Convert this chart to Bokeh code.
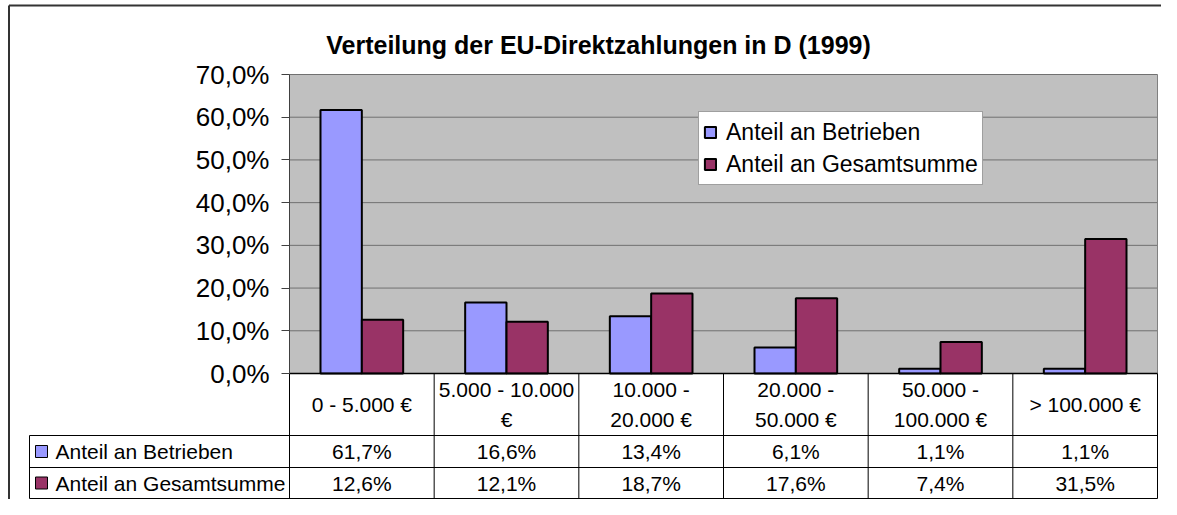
from bokeh.plotting import figure
from bokeh.models import Range1d, FixedTicker, CustomJSTickFormatter, ColumnDataSource
from bokeh.transform import dodge
from bokeh.core.properties import value
from bokeh.embed import file_html
from bokeh.resources import INLINE
import numpy as np

# ---------------- data ----------------
title_text = "Verteilung der EU-Direktzahlungen in D (1999)"
categories = ["0 - 5.000 €", "5.000 - 10.000\n€", "10.000 -\n20.000 €",
              "20.000 -\n50.000 €", "50.000 -\n100.000 €", "> 100.000 €"]
series_names = ["Anteil an Betrieben", "Anteil an Gesamtsumme"]
anteil_betriebe = [61.7, 16.6, 13.4, 6.1, 1.1, 1.1]
anteil_gesamtsumme = [12.6, 12.1, 18.7, 17.6, 7.4, 31.5]
y_ticks = [0, 10, 20, 30, 40, 50, 60, 70]
series_colors = ["#9999FF", "#993366"]

# ---------------- layout (canvas pixels) ----------------
W, H = 1161, 499
PLOT_L, PLOT_R = 289, 1157
PLOT_T, PLOT_B = 74, 373
Y_MAX = y_ticks[-1]
TABLE_L = 29
ROW_LINES = [373, 435, 467, 498]
FONT = "Liberation Sans"

n = len(categories)
ux = (PLOT_R - PLOT_L) / n
uy = (PLOT_B - PLOT_T) / Y_MAX


def X(px):
    return (px - PLOT_L) / ux


def Y(py):
    return (PLOT_B - py) / uy


def fmt(v):
    return f"{v:.1f}".replace(".", ",") + "%"


p = figure(width=W, height=H, output_backend="svg", toolbar_location=None,
           x_range=Range1d(X(0), X(W)),
           y_range=Range1d(Y(H), Y(0)),
           x_axis_location=None,
           min_border_left=0, min_border_right=0,
           min_border_top=0, min_border_bottom=0,
           background_fill_color="white", border_fill_color="white",
           outline_line_color=None)
p.grid.visible = False

# outer chart border (left and top)
p.segment(x0=[X(8.5), X(8.5)], x1=[X(8.5), X(W)], y0=[Y(5), Y(5)], y1=[Y(H), Y(5)],
          line_color="#333333", line_width=2)

# title
p.text(x=[X(598)], y=[Y(44)], text=[title_text], text_font=value(FONT),
       text_font_style="bold", text_font_size="25px", text_color="black",
       text_align="center", text_baseline="alphabetic")

# y axis at x = 0
ax = p.yaxis[0]
ax.fixed_location = 0
ax.ticker = FixedTicker(ticks=y_ticks)
ax.bounds = (0, Y_MAX)
ax.formatter = CustomJSTickFormatter(code="return tick.toFixed(1).replace('.', ',') + '%';")
ax.major_label_text_font = FONT
ax.major_label_text_font_size = "26px"
ax.major_label_text_color = "black"
ax.major_tick_out = 8
ax.major_tick_in = 0
ax.minor_tick_out = 0
ax.minor_tick_in = 0
ax.axis_line_color = "#404040"
ax.major_tick_line_color = "#404040"
ax.major_label_standoff = 12

# plot area background and gridlines
p.quad(left=[0], right=[n], bottom=[0], top=[Y_MAX], fill_color="#C0C0C0", line_color=None)
p.segment(x0=[0] * (len(y_ticks) - 1), x1=[n] * (len(y_ticks) - 1),
          y0=y_ticks[1:], y1=y_ticks[1:], line_color="#707070", line_width=1)
p.segment(x0=[n], x1=[n], y0=[0], y1=[Y_MAX], line_color="#808080", line_width=1)

# bars
src = ColumnDataSource(dict(x=np.arange(n) + 0.5, b=anteil_betriebe, g=anteil_gesamtsumme))
bw = 1 / 3.5
p.vbar(x=dodge("x", -bw / 2, range=p.x_range), top="b", width=bw, source=src,
       fill_color=series_colors[0], line_color="black", line_width=2,
       legend_label=series_names[0])
p.vbar(x=dodge("x", bw / 2, range=p.x_range), top="g", width=bw, source=src,
       fill_color=series_colors[1], line_color="black", line_width=2,
       legend_label=series_names[1])

# data table grid
tl = X(TABLE_L)
p.segment(x0=[0], x1=[n], y0=[0], y1=[0], line_color="black", line_width=1.5)
hl = ROW_LINES[1:]
p.segment(x0=[tl] * len(hl), x1=[n] * len(hl), y0=[Y(v) for v in hl], y1=[Y(v) for v in hl],
          line_color="black", line_width=1)
p.segment(x0=list(range(n + 1)), x1=list(range(n + 1)), y0=[0] * (n + 1),
          y1=[Y(ROW_LINES[-1])] * (n + 1), line_color="black", line_width=1)
p.segment(x0=[tl], x1=[tl], y0=[Y(ROW_LINES[1])], y1=[Y(ROW_LINES[-1])],
          line_color="black", line_width=1)

centers = list(np.arange(n) + 0.5)
row_c = [Y((ROW_LINES[i] + ROW_LINES[i + 1]) / 2) for i in range(3)]
txt = dict(text_font=value(FONT), text_font_size="21px", text_color="black",
           text_baseline="middle")
p.text(x=centers, y=[row_c[0]] * n, text=categories, text_align="center",
       text_line_height=1.33, **txt)
p.text(x=centers, y=[row_c[1]] * n, text=[fmt(v) for v in anteil_betriebe],
       text_align="center", **txt)
p.text(x=centers, y=[row_c[2]] * n, text=[fmt(v) for v in anteil_gesamtsumme],
       text_align="center", **txt)
p.text(x=[X(55)] * 2, y=row_c[1:], text=series_names, text_align="left", **txt)
p.scatter(x=[X(41)] * 2, y=row_c[1:], marker="square", size=12,
          fill_color=series_colors, line_color="black", line_width=1)

# legend
lg = p.legend[0]
lg.location = (698, H - 185)
lg.border_line_color = "#404040"
lg.border_line_width = 1
lg.background_fill_color = "white"
lg.background_fill_alpha = 1
lg.label_text_font = FONT
lg.label_text_font_size = "23px"
lg.label_text_color = "black"
lg.glyph_width = 14
lg.glyph_height = 14
lg.label_height = 32
lg.label_standoff = 9
lg.padding = 4
lg.spacing = 0
lg.margin = 0

open("out.html", "w").write(file_html(p, INLINE))
